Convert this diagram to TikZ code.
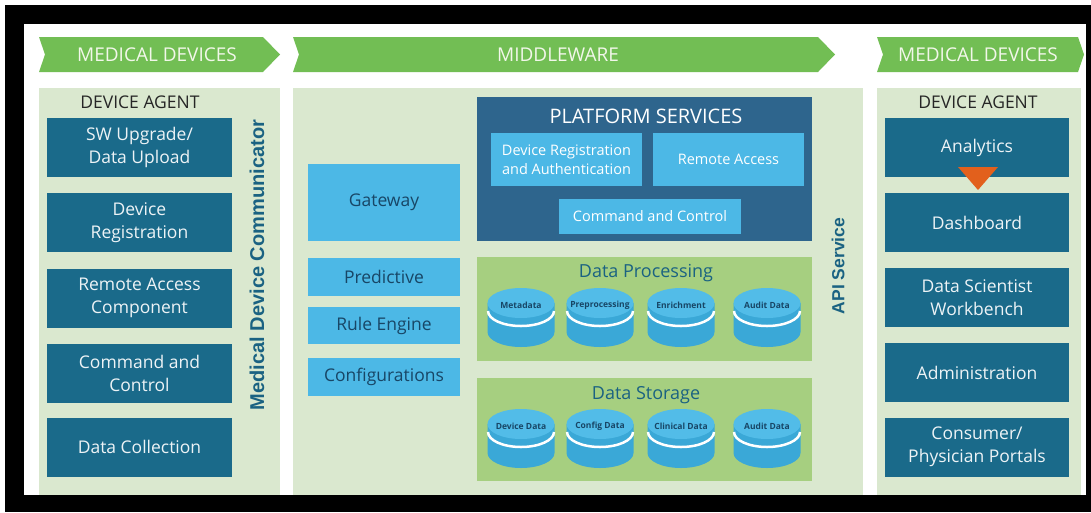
\documentclass[tikz,border=0pt]{standalone}
\usepackage{fontspec}
\setmainfont{Open Sans}
\newfontfamily\vertfont{Liberation Sans}

\definecolor{bannergreen}{RGB}{114,190,84}
\definecolor{bannertext}{RGB}{242,247,234}
\definecolor{panelgreen}{RGB}{218,232,207}
\definecolor{agentblue}{RGB}{26,106,138}
\definecolor{platformblue}{RGB}{46,101,141}
\definecolor{lightblue}{RGB}{76,184,230}
\definecolor{procgreen}{RGB}{166,207,128}
\definecolor{labelteal}{RGB}{26,98,130}
\definecolor{navytext}{RGB}{24,70,102}
\definecolor{cyltop}{RGB}{82,188,232}
\definecolor{cylside}{RGB}{58,168,215}
\definecolor{arroworange}{RGB}{226,96,28}

\tikzset{
    bannerlabel/.style={text=bannertext, font=\fontsize{19}{22}\selectfont},
    agentlabel/.style={text=black!85, font=\fontsize{17.5}{21}\selectfont},
    agentbox/.style={fill=agentblue, text=white!92!agentblue, inner sep=0pt,
        minimum width=185pt, minimum height=59pt, align=center,
        font=\fontsize{17.5}{23}\selectfont},
    toolbox/.style={fill=lightblue, text=navytext, inner sep=0pt,
        minimum width=152pt, align=center, font=\fontsize{17.5}{21}\selectfont},
    servicebox/.style={fill=lightblue, text=white, inner sep=0pt,
        minimum height=53pt, align=center, font=\fontsize{14.5}{19}\selectfont},
    grouptitle/.style={text=labelteal, font=\fontsize{18}{22}\selectfont},
    disklabel/.style={text=navytext, font=\bfseries\fontsize{8.5}{10}\selectfont},
    sidelabel/.style={text=labelteal, rotate=90, font=\vertfont\bfseries\fontsize{17.5}{20}\selectfont}
}

%% one stacked data disk: x, top y, name, label
\newcommand{\datadisk}[4]{%
    \fill[cylside] (#1-33.5, #2) -- (#1-33.5, #2+29)
        arc[start angle=180, end angle=360, x radius=33.5pt, y radius=15pt] -- (#1+33.5, #2) -- cycle;
    \draw[white, line width=2.5pt] (#1-33, #2+8)
        arc[start angle=180, end angle=360, x radius=33pt, y radius=15pt];
    \fill[cyltop] (#1, #2) ellipse[x radius=33.5pt, y radius=15pt];
    \node[disklabel] at(#1, #2+2)(#3){#4};
}

\begin{document}
\begin{tikzpicture}[x=1pt, y=-1pt]

            \useasboundingbox (0, 0) rectangle (1091, 512);
            \fill[black] (5, 5) rectangle (1091, 512);
            \fill[white] (24, 24) rectangle (1086, 495);

            %%banners
            \fill[bannergreen] (39, 37) -- (263, 37) -- (280, 54.5) -- (263, 72) -- (39, 72) -- (45, 54.5) -- cycle;
            \node[bannerlabel] at(157, 54.5)(devleft){MEDICAL DEVICES};
            \fill[bannergreen] (293, 37) -- (818, 37) -- (835, 54.5) -- (818, 72) -- (293, 72) -- (299, 54.5) -- cycle;
            \node[bannerlabel] at(558, 54.5)(middleware){MIDDLEWARE};
            \fill[bannergreen] (877, 37) -- (1078, 37) -- (1084, 54.5) -- (1078, 72) -- (877, 72) -- (883, 54.5) -- cycle;
            \node[bannerlabel] at(978, 54.5)(devright){MEDICAL DEVICES};

            %%panels
            \fill[panelgreen] (39, 88) rectangle (280, 495);
            \fill[panelgreen] (293, 88) rectangle (863, 495);
            \fill[panelgreen] (877, 88) rectangle (1081, 495);

            %%left device agent
            \node[agentlabel] at(140, 102)(agentleft){DEVICE AGENT};
            \node[agentbox] at(139.5, 147.5)(upload){SW Upgrade/\\Data Upload};
            \node[agentbox] at(139.5, 222.5)(registration){Device\\Registration};
            \node[agentbox] at(139.5, 298)(remote){Remote Access\\Component};
            \node[agentbox] at(139.5, 373.5)(command){Command and\\Control};
            \node[agentbox] at(139.5, 447)(collection){Data Collection};
            \node[sidelabel, font=\vertfont\bfseries\fontsize{20}{22}\selectfont] at(257, 265)(communicator){Medical Device Communicator};

            %%middleware tools
            \node[toolbox, minimum height=77pt] at(384, 202.5)(gateway){Gateway};
            \node[toolbox, minimum height=38pt] at(384, 277)(predictive){Predictive};
            \node[toolbox, minimum height=37pt] at(384, 325.5)(rules){Rule Engine};
            \node[toolbox, minimum height=38pt] at(384, 377)(configs){Configurations};

            %%platform services
            \fill[platformblue] (477, 97) rectangle (812, 241);
            \node[text=white, font=\fontsize{20}{22}\selectfont] at(646, 116)(platform){PLATFORM SERVICES};
            \node[servicebox, minimum width=151pt] at(566.5, 159.5)(devauth){Device Registration\\and Authentication};
            \node[servicebox, minimum width=151pt] at(728.5, 159.5)(remoteaccess){Remote Access};
            \node[servicebox, minimum width=182pt, minimum height=35pt] at(650, 216.5)(cmdctrl){Command and Control};

            %%data processing
            \fill[procgreen] (477, 257) rectangle (812, 361);
            \node[grouptitle] at(646, 273)(processing){Data Processing};
            \datadisk{521}{303}{metadata}{Metadata}
            \datadisk{600}{303}{preproc}{Preprocessing}
            \datadisk{681}{303}{enrich}{Enrichment}
            \datadisk{767}{303}{auditproc}{Audit Data}

            %%data storage
            \fill[procgreen] (477, 378) rectangle (812, 481);
            \node[grouptitle] at(646, 395)(storage){Data Storage};
            \datadisk{521}{424}{devdata}{Device Data}
            \datadisk{600}{424}{configdata}{Config Data}
            \datadisk{681}{424}{clinical}{Clinical Data}
            \datadisk{767}{424}{auditstore}{Audit Data}

            \node[sidelabel] at(838, 266)(api){API Service};

            %%right device agent
            \node[agentlabel] at(978, 102)(agentright){DEVICE AGENT};
            \node[agentbox, minimum width=184pt] at(977, 147.5)(analytics){Analytics};
            \node[agentbox, minimum width=184pt] at(977, 222.5)(dashboard){Dashboard};
            \node[agentbox, minimum width=184pt] at(977, 297.5)(workbench){Data Scientist\\Workbench};
            \node[agentbox, minimum width=184pt] at(977, 372.5)(admin){Administration};
            \node[agentbox, minimum width=184pt] at(977, 447)(portals){Consumer/\\Physician Portals};
            \fill[arroworange] (958, 167) -- (998, 167) -- (978, 190) -- cycle;

\end{tikzpicture}
\end{document}
